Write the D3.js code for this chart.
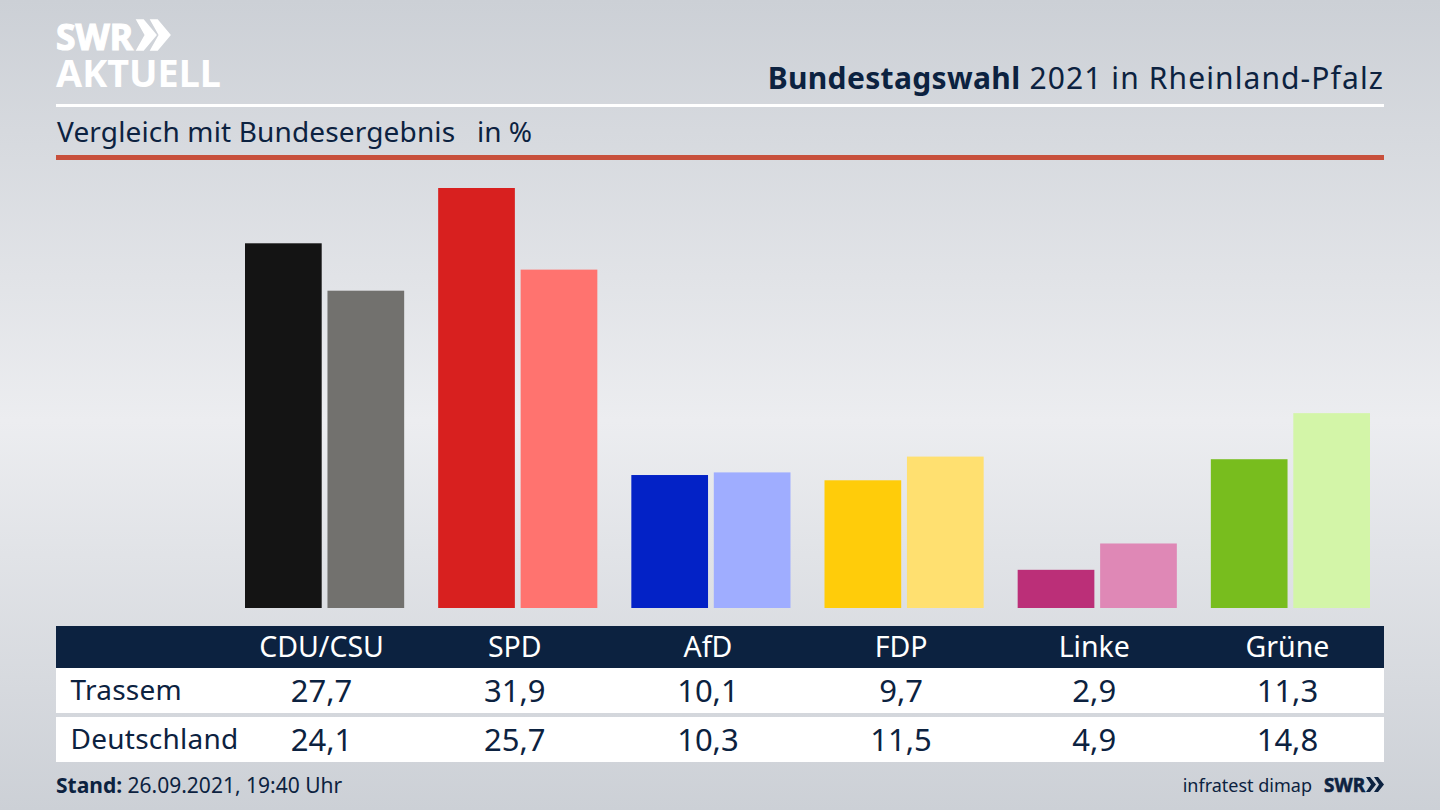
<!DOCTYPE html>
<html lang="de">
<head>
    <meta charset="UTF-8">
    <title>Bundestagswahl 2021 in Rheinland-Pfalz</title>
    <style>
        html, body {
            margin: 0;
            padding: 0;
            width: 1440px;
            height: 810px;
            overflow: hidden;
        }
        svg {
            display: block;
        }
        text {
            font-family: "Noto Sans", "Open Sans", sans-serif;
            fill: #0c2240;
        }
    </style>
</head>
<body>
<svg id="chart" width="1440" height="810"></svg>

<script src="https://d3js.org/d3.v7.min.js"></script>
<script>
    // Values
    const parties = ["CDU/CSU", "SPD", "AfD", "FDP", "Linke", "Grüne"];
    const seriesNames = ["Trassem", "Deutschland"];
    const trassem = [27.7, 31.9, 10.1, 9.7, 2.9, 11.3];
    const deutschland = [24.1, 25.7, 10.3, 11.5, 4.9, 14.8];
    const darkColors = ["#141414", "#d8201f", "#0322c6", "#ffcc0a", "#bb2f78", "#78bd1e"];
    const lightColors = ["#72716e", "#ff736f", "#9fadff", "#ffe070", "#df88b6", "#d3f5a8"];

    const navy = "#0c2240";
    const svg = d3.select("#chart");

    // Background
    const defs = svg.append("defs");
    const grad = defs.append("linearGradient")
        .attr("id", "bg")
        .attr("x1", 0).attr("y1", 0).attr("x2", 0).attr("y2", 1);
    grad.append("stop").attr("offset", "0%").attr("stop-color", "#ccd0d6");
    grad.append("stop").attr("offset", "52%").attr("stop-color", "#ecedf0");
    grad.append("stop").attr("offset", "100%").attr("stop-color", "#ccd0d6");
    svg.append("rect").attr("width", 1440).attr("height", 810).attr("fill", "url(#bg)");

    // Logo
    svg.append("text").attr("x", 56).attr("y", 50)
        .attr("font-size", 36).attr("font-weight", 700)
        .style("fill", "#fff").style("stroke", "#fff").style("stroke-width", 1.2)
        .attr("textLength", 77).attr("lengthAdjust", "spacingAndGlyphs")
        .text("SWR");
    const chevron = "M0,2 L6,2 L18,17 L6,32 L0,32 L8,17 Z";
    [137, 151].forEach(x => {
        svg.append("path").attr("d", chevron)
            .attr("transform", `translate(${x},18) scale(1.05,1)`)
            .attr("fill", "#fff")
            .attr("stroke", "#fff")
            .attr("stroke-width", 1.5);
    });
    svg.append("text").attr("x", 56).attr("y", 87)
        .attr("font-size", 38).attr("font-weight", 700)
        .style("fill", "#fff").attr("textLength", 165).attr("lengthAdjust", "spacingAndGlyphs")
        .text("AKTUELL");

    // Header
    const title = svg.append("text").attr("x", 1384).attr("y", 89)
        .attr("text-anchor", "end").attr("font-size", 30);
    title.append("tspan").attr("font-weight", 700).style("letter-spacing", "0.35px").text("Bundestagswahl");
    title.append("tspan").style("letter-spacing", "1.1px").text(" 2021 in Rheinland-Pfalz");

    svg.append("rect").attr("x", 56).attr("y", 104).attr("width", 1328).attr("height", 3).attr("fill", "#fff");

    svg.append("text").attr("x", 57).attr("y", 142).attr("font-size", 28)
        .style("letter-spacing", "0.15px")
        .text("Vergleich mit Bundesergebnis");
    svg.append("text").attr("x", 477).attr("y", 142).attr("font-size", 28).text("in %");

    svg.append("rect").attr("x", 56).attr("y", 155).attr("width", 1328).attr("height", 5).attr("fill", "#c8503c");

    // Scales
    const x0 = d3.scaleBand().domain(parties).range([245, 1370]).paddingInner(0.176);
    const x1 = d3.scaleBand().domain(seriesNames).range([0, x0.bandwidth()]).paddingInner(0.07);
    const y = d3.scaleLinear().domain([0, 31.9]).range([608, 188]);

    // Bars
    const rows = parties.map((p, i) => ({party: p, values: [trassem[i], deutschland[i]], i: i}));
    const groups = svg.selectAll(".group")
        .data(rows)
        .enter()
        .append("g")
        .attr("class", "group")
        .attr("transform", d => `translate(${x0(d.party)},0)`);

    groups.selectAll("rect")
        .data(d => d.values.map((v, k) => ({
            name: seriesNames[k],
            value: v,
            color: k === 0 ? darkColors[d.i] : lightColors[d.i]
        })))
        .enter()
        .append("rect")
        .attr("x", d => x1(d.name))
        .attr("y", d => y(d.value))
        .attr("width", x1.bandwidth())
        .attr("height", d => y(0) - y(d.value))
        .attr("fill", d => d.color);

    // Table
    const colX = p => x0(p) + x0.bandwidth() / 2 - 3;
    const fmt = v => v.toFixed(1).replace(".", ",");

    svg.append("rect").attr("x", 56).attr("y", 626).attr("width", 1328).attr("height", 42).attr("fill", navy);
    svg.append("rect").attr("x", 56).attr("y", 668).attr("width", 1328).attr("height", 45).attr("fill", "#fff");
    svg.append("rect").attr("x", 56).attr("y", 717).attr("width", 1328).attr("height", 45).attr("fill", "#fff");

    svg.selectAll(".head")
        .data(parties)
        .enter()
        .append("text")
        .attr("class", "head")
        .attr("x", colX)
        .attr("y", 657)
        .attr("text-anchor", "middle")
        .attr("font-size", 28.5)
        .style("fill", "#fff")
        .text(d => d);

    const rowY = [701, 750];
    [trassem, deutschland].forEach((vals, r) => {
        svg.append("text").attr("x", 70.5).attr("y", rowY[r] - 1)
            .attr("font-size", 28).style("letter-spacing", "0.25px").text(seriesNames[r]);
        svg.selectAll(".val" + r)
            .data(vals)
            .enter()
            .append("text")
            .attr("class", "val" + r)
            .attr("x", (d, i) => colX(parties[i]))
            .attr("y", rowY[r] + 1)
            .attr("text-anchor", "middle")
            .attr("font-size", 31)
            .text(d => fmt(d));
    });

    // Footer
    const stand = svg.append("text").attr("x", 56).attr("y", 793).attr("font-size", 21);
    stand.append("tspan").attr("font-weight", 700).text("Stand:");
    stand.append("tspan").text(" 26.09.2021, 19:40 Uhr");

    svg.append("text").attr("x", 1312).attr("y", 792)
        .attr("text-anchor", "end").attr("font-size", 18).text("infratest dimap");
    svg.append("text").attr("x", 1324).attr("y", 792)
        .attr("font-size", 20).attr("font-weight", 700)
        .style("stroke", navy).style("stroke-width", 0.6)
        .attr("textLength", 41).attr("lengthAdjust", "spacingAndGlyphs").text("SWR");
    const smallChevron = "M0,0 L4,0 L10,7.5 L4,15 L0,15 L5,7.5 Z";
    [1366, 1374].forEach(x => {
        svg.append("path").attr("d", smallChevron)
            .attr("transform", `translate(${x},777)`)
            .attr("fill", navy);
    });
</script>
</body>
</html>
